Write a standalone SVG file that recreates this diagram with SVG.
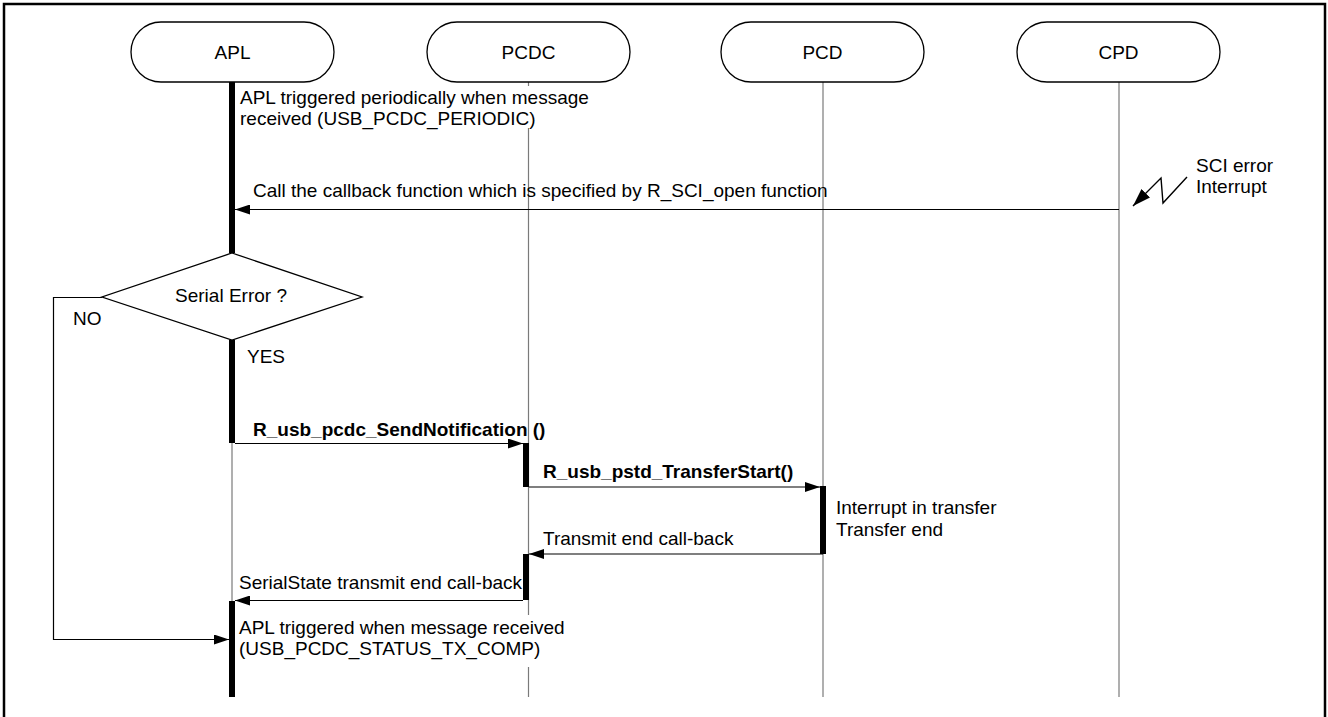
<svg xmlns="http://www.w3.org/2000/svg" width="1328" height="717" viewBox="0 0 1328 717">
<style>
  text { font-family: "Liberation Sans", Arial, sans-serif; font-size: 19px; fill: #000; }
  .b { font-weight: bold; }
  .mid { text-anchor: middle; }
  .pill { fill: #fff; stroke: #000; stroke-width: 1.3; }
  .life { stroke: #7a7a7a; stroke-width: 1.2; fill: none; }
  .bar { fill: #000; }
  .msgarrow { stroke: #000; stroke-width: 1.2; fill: none; marker-end: url(#ah); }
  .bolt { stroke: #000; stroke-width: 1.4; fill: none; marker-end: url(#ahbig); }
</style>
<defs>
  <marker id="ah" viewBox="0 0 15 10" refX="15" refY="5" markerWidth="15" markerHeight="10" markerUnits="userSpaceOnUse" orient="auto">
    <path d="M0,0 L15,5 L0,10 Z" fill="#000"/>
  </marker>
  <marker id="ahbig" viewBox="0 0 18 12" refX="18" refY="6" markerWidth="18" markerHeight="12" markerUnits="userSpaceOnUse" orient="auto">
    <path d="M0,0 L18,6 L0,12 Z" fill="#000"/>
  </marker>
</defs>
<rect x="0" y="0" width="1328" height="717" fill="#fff"/>
<rect x="4" y="4" width="1321" height="730" fill="none" stroke="#000" stroke-width="2.5"/>

<g id="connectors">
  <!-- lifelines -->
  <line class="life" x1="232" y1="82" x2="232" y2="697"/>
  <line class="life" x1="528.5" y1="82" x2="528.5" y2="86"/>
  <line class="life" x1="528.5" y1="128" x2="528.5" y2="615"/>
  <line class="life" x1="528.5" y1="667" x2="528.5" y2="697"/>
  <line class="life" x1="823" y1="82" x2="823" y2="697"/>
  <line class="life" x1="1119" y1="82" x2="1119" y2="697"/>
  <!-- activation bars -->
  <rect class="bar" x="229" y="82" width="6" height="171"/>
  <rect class="bar" x="229" y="340" width="6" height="103"/>
  <rect class="bar" x="229" y="601" width="6" height="96"/>
  <rect class="bar" x="523" y="443" width="6" height="44"/>
  <rect class="bar" x="523" y="554" width="6" height="46"/>
  <rect class="bar" x="820" y="486" width="6" height="68"/>
  <!-- messages -->
  <line class="msgarrow" x1="1119" y1="209.5" x2="235" y2="209.5"/>
  <line class="msgarrow" x1="235" y1="443.5" x2="523" y2="443.5"/>
  <line class="msgarrow" x1="529" y1="487" x2="820" y2="487"/>
  <line class="msgarrow" x1="823" y1="554" x2="529" y2="554"/>
  <line class="msgarrow" x1="523" y1="600.5" x2="235" y2="600.5"/>
  <polyline class="msgarrow" points="102,297.5 53.5,297.5 53.5,639.5 229,639.5"/>
  <!-- lightning (SCI error interrupt) -->
  <polyline class="bolt" points="1187,177 1163,203 1161,178 1133,206"/>
</g>

<g id="node-apl">
  <rect class="pill" x="131" y="22" width="203" height="60" rx="30" ry="30"/>
  <text class="mid" x="232.5" y="59">APL</text>
</g>
<g id="node-pcdc">
  <rect class="pill" x="427" y="22" width="203" height="60" rx="30" ry="30"/>
  <text class="mid" x="528.5" y="59">PCDC</text>
</g>
<g id="node-pcd">
  <rect class="pill" x="721" y="22" width="203" height="60" rx="30" ry="30"/>
  <text class="mid" x="822.5" y="59">PCD</text>
</g>
<g id="node-cpd">
  <rect class="pill" x="1017" y="22" width="203" height="60" rx="30" ry="30"/>
  <text class="mid" x="1118.5" y="59">CPD</text>
</g>

<g id="node-decision">
  <polygon points="232,253 362,297 232,340 102,297" fill="#fff" stroke="#000" stroke-width="1.3"/>
  <text class="mid" x="231" y="302">Serial Error ?</text>
</g>

<g id="labels">
  <text x="240" y="104">APL triggered periodically when message</text>
  <text x="240" y="125">received (USB_PCDC_PERIODIC)</text>
  <text x="253" y="197">Call the callback function which is specified by R_SCI_open function</text>
  <text x="1196" y="172">SCI error</text>
  <text x="1196" y="193">Interrupt</text>
  <text x="73" y="325">NO</text>
  <text x="247" y="363">YES</text>
  <text class="b" x="253" y="436">R_usb_pcdc_SendNotification ()</text>
  <text class="b" x="543" y="478">R_usb_pstd_TransferStart()</text>
  <text x="836" y="514">Interrupt in transfer</text>
  <text x="836" y="536">Transfer end</text>
  <text x="543" y="545">Transmit end call-back</text>
  <text x="239" y="589">SerialState transmit end call-back</text>
  <text x="239" y="634">APL triggered when message received</text>
  <text x="239" y="655">(USB_PCDC_STATUS_TX_COMP)</text>
</g>
</svg>
